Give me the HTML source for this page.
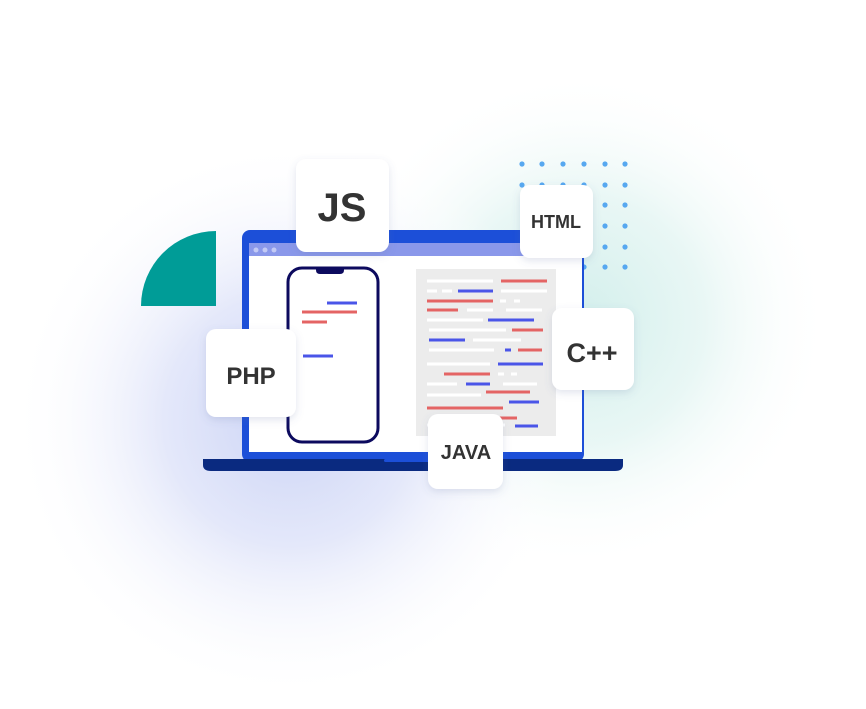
<!DOCTYPE html>
<html><head><meta charset="utf-8"><style>
html,body{margin:0;padding:0;background:#fff;}
svg{display:block}
text{font-family:"Liberation Sans",sans-serif;font-weight:bold;fill:#333;text-anchor:middle}
</style></head><body>
<svg width="866" height="709" viewBox="0 0 866 709" xmlns="http://www.w3.org/2000/svg">
<defs>
<radialGradient id="gb" cx="290" cy="420" r="280" gradientUnits="userSpaceOnUse">
<stop offset="0" stop-color="#cdd5f6"/><stop offset="0.45" stop-color="#e4e8fa"/><stop offset="1" stop-color="#fff" stop-opacity="0"/></radialGradient>
<radialGradient id="gt" cx="580" cy="320" r="250" gradientUnits="userSpaceOnUse">
<stop offset="0" stop-color="#d3efec"/><stop offset="0.5" stop-color="#e9f7f5"/><stop offset="1" stop-color="#fff" stop-opacity="0"/></radialGradient>
<filter id="sh" x="-30%" y="-30%" width="160%" height="160%"><feDropShadow dx="0" dy="3" stdDeviation="4" flood-color="#6070a0" flood-opacity="0.18"/></filter>
</defs>
<rect width="866" height="709" fill="#fff"/>
<circle cx="580" cy="320" r="250" fill="url(#gt)"/>
<circle cx="290" cy="420" r="280" fill="url(#gb)"/>
<path d="M216 231 L216 306 L141 306 A75 75 0 0 1 216 231Z" fill="#009c97"/>
<g fill="#57a8f0">
<circle cx="522" cy="164" r="2.6"/><circle cx="542" cy="164" r="2.6"/><circle cx="563" cy="164" r="2.6"/><circle cx="584" cy="164" r="2.6"/><circle cx="605" cy="164" r="2.6"/><circle cx="625" cy="164" r="2.6"/>
<circle cx="522" cy="185" r="2.6"/><circle cx="542" cy="185" r="2.6"/><circle cx="563" cy="185" r="2.6"/><circle cx="584" cy="185" r="2.6"/><circle cx="605" cy="185" r="2.6"/><circle cx="625" cy="185" r="2.6"/>
<circle cx="605" cy="205" r="2.6"/><circle cx="625" cy="205" r="2.6"/>
<circle cx="605" cy="226" r="2.6"/><circle cx="625" cy="226" r="2.6"/>
<circle cx="605" cy="247" r="2.6"/><circle cx="625" cy="247" r="2.6"/>
<circle cx="584" cy="267" r="2.6"/><circle cx="605" cy="267" r="2.6"/><circle cx="625" cy="267" r="2.6"/>
</g>
<rect x="242" y="230" width="342" height="232" rx="8" fill="#1c4fd8"/>
<rect x="249" y="243" width="333" height="13" fill="#8a98ea"/>
<circle cx="256" cy="250" r="2.5" fill="#c3caf5"/><circle cx="265" cy="250" r="2.5" fill="#c3caf5"/><circle cx="274" cy="250" r="2.5" fill="#c3caf5"/>
<rect x="249" y="256" width="333" height="196" fill="#fff"/>
<path d="M203 459 H623 V465 Q623 471 615 471 H211 Q203 471 203 465Z" fill="#0a2a80"/>
<rect x="384" y="459" width="60" height="3" rx="1.5" fill="#1c4fd8"/>
<rect x="288" y="268" width="90" height="174" rx="14" fill="#fff" stroke="#0c0a5e" stroke-width="3"/>
<path d="M316 268 h28 v2 q0 4 -4 4 h-20 q-4 0 -4 -4z" fill="#0c0a5e"/>
<g stroke-width="3">
<line x1="327" y1="303" x2="357" y2="303" stroke="#4a55e8"/>
<line x1="302" y1="312" x2="357" y2="312" stroke="#e46464"/>
<line x1="302" y1="322" x2="327" y2="322" stroke="#e46464"/>
<line x1="303" y1="356" x2="333" y2="356" stroke="#4a55e8"/>
</g>
<rect x="416" y="269" width="140" height="167" fill="#ececec"/>
<g stroke-width="3">
<g stroke="#fff">
<line x1="427" y1="281" x2="493" y2="281"/><line x1="427" y1="291" x2="437" y2="291"/><line x1="442" y1="291" x2="452" y2="291"/><line x1="501" y1="291" x2="547" y2="291"/>
<line x1="500" y1="301" x2="506" y2="301"/><line x1="514" y1="301" x2="520" y2="301"/>
<line x1="467" y1="310" x2="493" y2="310"/><line x1="506" y1="310" x2="542" y2="310"/>
<line x1="427" y1="320" x2="483" y2="320"/><line x1="429" y1="330" x2="506" y2="330"/>
<line x1="473" y1="340" x2="521" y2="340"/><line x1="429" y1="350" x2="494" y2="350"/>
<line x1="427" y1="364" x2="490" y2="364"/><line x1="498" y1="374" x2="504" y2="374"/><line x1="511" y1="374" x2="517" y2="374"/>
<line x1="427" y1="384" x2="457" y2="384"/><line x1="503" y1="384" x2="537" y2="384"/>
<line x1="427" y1="395" x2="481" y2="395"/><line x1="427" y1="425" x2="505" y2="425"/>
</g>
<g stroke="#e46464">
<line x1="501" y1="281" x2="547" y2="281"/><line x1="427" y1="301" x2="493" y2="301"/><line x1="427" y1="310" x2="458" y2="310"/>
<line x1="512" y1="330" x2="543" y2="330"/><line x1="518" y1="350" x2="542" y2="350"/><line x1="444" y1="374" x2="490" y2="374"/>
<line x1="486" y1="392" x2="530" y2="392"/><line x1="427" y1="408" x2="503" y2="408"/><line x1="490" y1="418" x2="517" y2="418"/>
</g>
<g stroke="#4a55e8">
<line x1="458" y1="291" x2="493" y2="291"/><line x1="488" y1="320" x2="534" y2="320"/><line x1="429" y1="340" x2="465" y2="340"/>
<line x1="505" y1="350" x2="511" y2="350"/><line x1="498" y1="364" x2="543" y2="364"/><line x1="466" y1="384" x2="490" y2="384"/>
<line x1="509" y1="402" x2="539" y2="402"/><line x1="515" y1="426" x2="538" y2="426"/>
</g>
</g>
<g fill="#fff" filter="url(#sh)">
<rect x="296" y="159" width="93" height="93" rx="10"/>
<rect x="520" y="185" width="73" height="73" rx="10"/>
<rect x="206" y="329" width="90" height="88" rx="10"/>
<rect x="552" y="308" width="82" height="82" rx="10"/>
<rect x="428" y="414" width="75" height="75" rx="10"/>
</g>
<text x="342" y="221" font-size="40">JS</text>
<text x="556" y="228" font-size="18">HTML</text>
<text x="251" y="384" font-size="24">PHP</text>
<text x="592" y="362" font-size="27">C++</text>
<text x="466" y="459" font-size="20">JAVA</text>
</svg>
</body></html>
